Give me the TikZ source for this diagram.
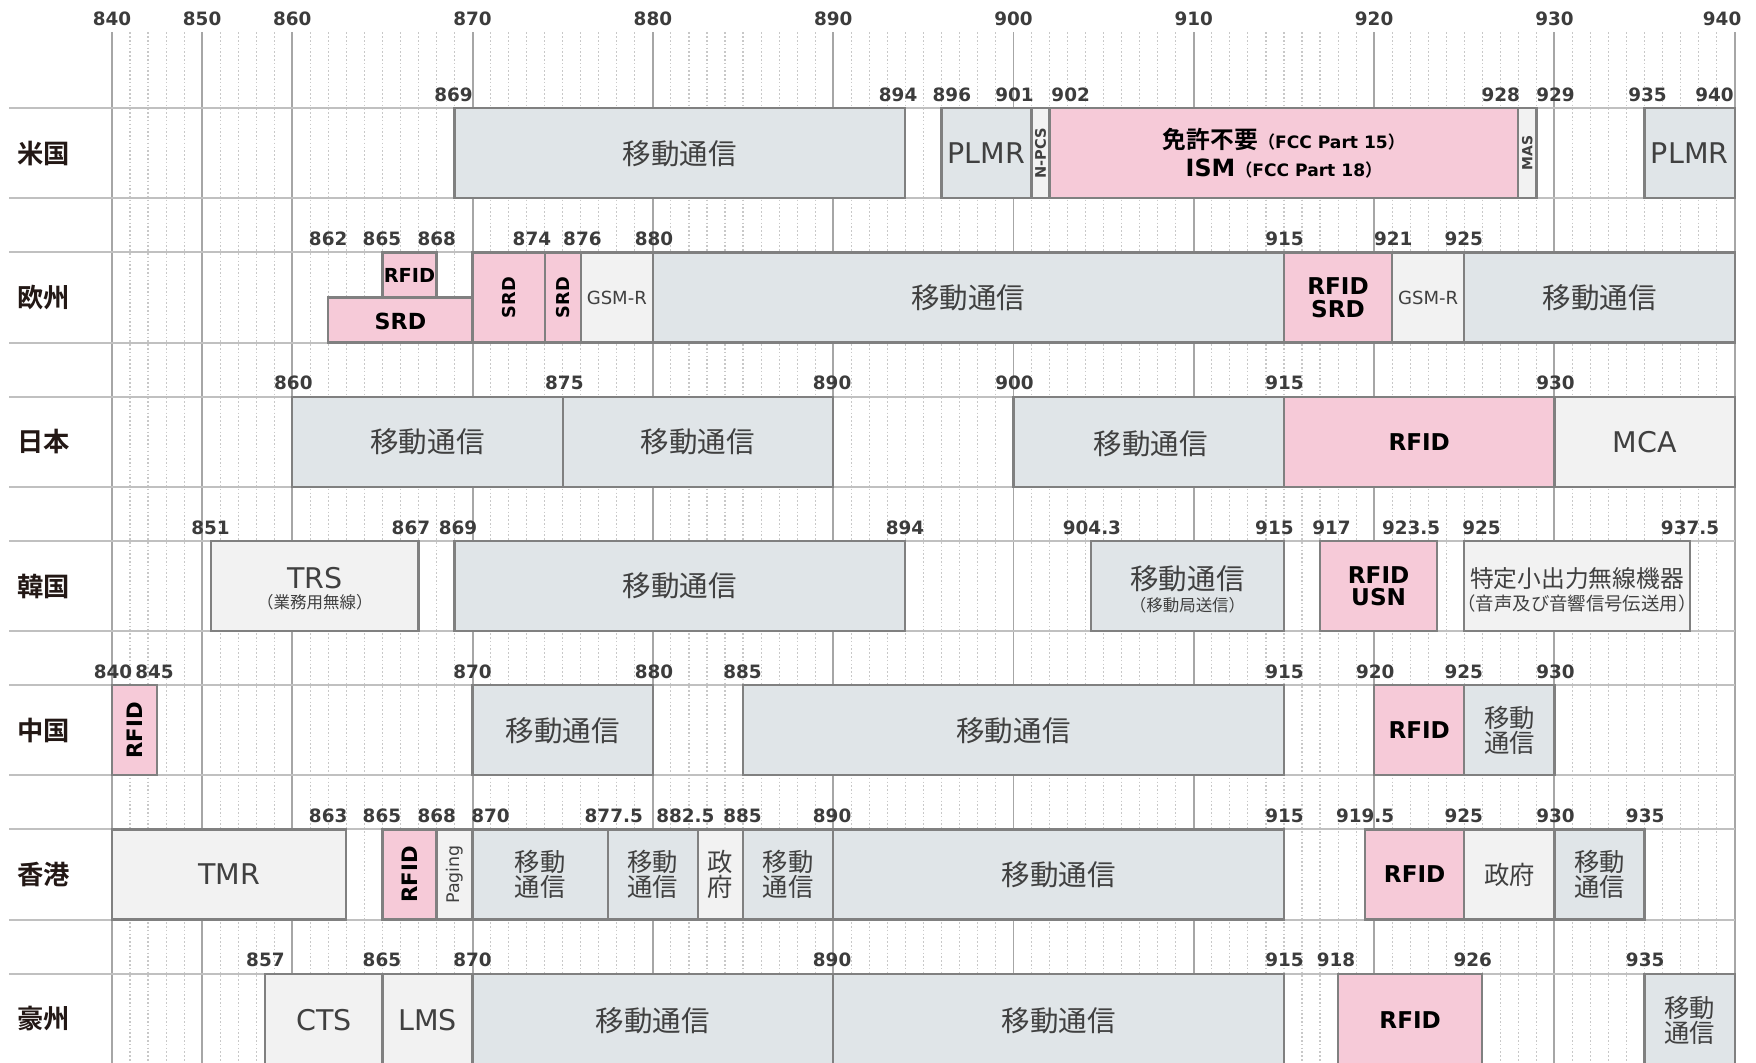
\documentclass[tikz,border=0pt]{standalone}
\usepackage{fontspec}
\setmainfont{DejaVu Sans}
\newfontfamily\jp{Noto Sans CJK JP}[BoldFont={Noto Sans CJK JP Bold}]

\definecolor{mobfill}{HTML}{E0E5E8}
\definecolor{rfpink}{HTML}{F6CAD8}
\definecolor{etcgray}{HTML}{F2F2F2}
\definecolor{boxline}{HTML}{808080}
\definecolor{majline}{HTML}{A6A6A6}
\definecolor{rowline}{HTML}{C0C0C0}
\definecolor{minline}{HTML}{C8C8C8}
\definecolor{txtgray}{HTML}{404040}
\definecolor{numgray}{HTML}{3C3C3C}
\definecolor{namecol}{HTML}{231815}

\begin{document}
\begin{tikzpicture}[x=0.2cm, y=-0.2cm,
    mob/.style={draw=boxline, fill=mobfill, line width=0.7pt},
    rf/.style={draw=boxline, fill=rfpink, line width=0.7pt},
    etc/.style={draw=boxline, fill=etcgray, line width=0.7pt},
    num/.style={font=\fontsize{5.8}{6}\selectfont\bfseries, text=numgray, inner sep=0pt},
    cname/.style={font=\fontsize{8.3}{9}\selectfont\jp\bfseries, text=namecol, anchor=west, inner sep=0pt},
    big/.style={font=\fontsize{9}{9}\selectfont\jp, text=txtgray, inner sep=0pt},
    bigl/.style={font=\fontsize{9}{9}\selectfont, text=txtgray, inner sep=0pt},
    two/.style={font=\fontsize{8}{7.8}\selectfont\jp, text=txtgray, align=center, inner sep=0pt},
    sub/.style={font=\fontsize{5.2}{6}\selectfont\jp, text=txtgray, inner sep=0pt},
    tag/.style={font=\fontsize{7.3}{7.4}\selectfont\bfseries, text=black, align=center, inner sep=0pt},
    vtag/.style={font=\fontsize{6.7}{7}\selectfont\bfseries, text=black, rotate=90, inner sep=0pt},
    small/.style={font=\fontsize{5.7}{6}\selectfont, text=txtgray, inner sep=0pt}]

    \fill[white] (-16.21, 0) rectangle (81.18, 58.94);
    \useasboundingbox (-16.21, 0) rectangle (81.18, 58.94);
    \clip (-16.21, 0) rectangle (81.18, 58.94);

    % grid: 2 MHz steps below 860, 1 MHz steps above
    \foreach \x in {-10,...,80}
        \draw[minline, line width=0.35pt, dash pattern=on 0.5pt off 0.7pt] (\x, 1.8) -- (\x, 59);
    \foreach \x in {-10,-5,0,10,20,...,80}
        \draw[majline, line width=0.6pt] (\x, 1.8) -- (\x, 59);
    \foreach \x/\f [count=\i] in {-10/840,-5/850,0/860,10/870,20/880,30/890,40/900,50/910,60/920,70/930,79.3/940}
        \node[num] (ax\i) at (\x, 1.06) {\f};

    % rows
    \foreach \r in {0,...,6} {
        \draw[rowline, line width=0.6pt] (-15.71, 6 + 8*\r) -- (80, 6 + 8*\r);
        \draw[rowline, line width=0.6pt] (-15.71, 11 + 8*\r) -- (80, 11 + 8*\r);
    }
    \foreach \t [count=\i] in {米国,欧州,日本,韓国,中国,香港,豪州}
        \node[cname] (name\i) at (-15.3, 0.5 + 8*\i) {\t};

    % 米国
    \draw[mob] (9, 6) rectangle (34, 11);
    \draw[mob] (36, 6) rectangle (41, 11);
    \draw[etc] (41, 6) rectangle (42, 11);
    \draw[rf] (42, 6) rectangle (68, 11);
    \draw[etc] (68, 6) rectangle (69, 11);
    \draw[mob] (75, 6) rectangle (80, 11);
    \foreach \x/\t [count=\i] in {8.94/869,33.6/894,36.58/896,40.06/901,43.17/902,67.02/928,70.06/929,75.16/935,78.88/940}
        \node[num] (us\i) at (\x, 5.25) {\t};
    \node[big] (us-mob) at (21.5, 8.5) {移動通信};
    \node[bigl] (us-plmr1) at (38.5, 8.5) {PLMR};
    \node[vtag, font=\fontsize{4.6}{5}\selectfont\bfseries, text=txtgray] (us-npcs) at (41.5, 8.5) {N-PCS};
    \node[tag, font=\fontsize{7.5}{8.8}\selectfont\bfseries] (us-ism) at (55, 8.5)
        {{\jp 免許不要}{\fontsize{5.4}{6}\selectfont{\jp （}FCC Part 15{\jp ）}}\\
         ISM{\fontsize{5.4}{6}\selectfont{\jp （}FCC Part 18{\jp ）}}};
    \node[vtag, font=\fontsize{4.4}{5}\selectfont\bfseries, text=txtgray] (us-mas) at (68.5, 8.5) {MAS};
    \node[bigl] (us-plmr2) at (77.5, 8.5) {PLMR};

    % 欧州
    \draw[rf] (5, 14) rectangle (8, 16.5);
    \draw[rf] (2, 16.5) rectangle (10, 19);
    \draw[rf] (10, 14) rectangle (14, 19);
    \draw[rf] (14, 14) rectangle (16, 19);
    \draw[etc] (16, 14) rectangle (20, 19);
    \draw[mob] (20, 14) rectangle (55, 19);
    \draw[rf] (55, 14) rectangle (61, 19);
    \draw[etc] (61, 14) rectangle (65, 19);
    \draw[mob] (65, 14) rectangle (80, 19);
    \foreach \x/\t [count=\i] in {1.99/862,4.97/865,8.01/868,13.29/874,16.09/876,20.06/880,55.03/915,61.06/921,64.97/925}
        \node[num] (eu\i) at (\x, 13.25) {\t};
    \node[tag, font=\fontsize{6.1}{7}\selectfont\bfseries] (eu-rfid) at (6.5, 15.3) {RFID};
    \node[tag, font=\fontsize{7}{8}\selectfont\bfseries] (eu-srd1) at (6, 17.85) {SRD};
    \node[vtag, font=\fontsize{5.6}{6}\selectfont\bfseries] (eu-srd2) at (12, 16.5) {SRD};
    \node[vtag, font=\fontsize{5.6}{6}\selectfont\bfseries] (eu-srd3) at (15, 16.5) {SRD};
    \node[small] (eu-gsm1) at (18, 16.5) {GSM-R};
    \node[big] (eu-mob1) at (37.5, 16.5) {移動通信};
    \node[tag] (eu-rfsrd) at (58, 16.5) {RFID\\SRD};
    \node[small] (eu-gsm2) at (63, 16.5) {GSM-R};
    \node[big] (eu-mob2) at (72.5, 16.5) {移動通信};

    % 日本
    \draw[mob] (0, 22) rectangle (15, 27);
    \draw[mob] (15, 22) rectangle (30, 27);
    \draw[mob] (40, 22) rectangle (55, 27);
    \draw[rf] (55, 22) rectangle (70, 27);
    \draw[etc] (70, 22) rectangle (80, 27);
    \foreach \x/\t [count=\i] in {0.06/860,15.09/875,29.94/890,40.06/900,55.03/915,70.06/930}
        \node[num] (jp\i) at (\x, 21.25) {\t};
    \node[big] (jp-mob1) at (7.5, 24.5) {移動通信};
    \node[big] (jp-mob2) at (22.5, 24.5) {移動通信};
    \node[big] (jp-mob3) at (47.6, 24.6) {移動通信};
    \node[tag] (jp-rfid) at (62.5, 24.5) {RFID};
    \node[bigl] (jp-mca) at (75, 24.5) {MCA};

    % 韓国
    \draw[etc] (-4.5, 30) rectangle (7, 35);
    \draw[mob] (9, 30) rectangle (34, 35);
    \draw[mob] (44.3, 30) rectangle (55, 35);
    \draw[rf] (57, 30) rectangle (63.5, 35);
    \draw[etc] (65, 30) rectangle (77.5, 35);
    \foreach \x/\t [count=\i] in {-4.53/851,6.58/867,9.19/869,33.98/894,44.35/904.3,54.47/915,57.64/917,62.05/923.5,65.96/925,77.52/937.5}
        \node[num] (kr\i) at (\x, 29.25) {\t};
    \node[bigl] (kr-trs) at (1.25, 32.05) {TRS};
    \node[sub] (kr-trs-sub) at (1.25, 33.42) {（業務用無線）};
    \node[big] (kr-mob1) at (21.5, 32.5) {移動通信};
    \node[big] (kr-mob2) at (49.65, 32.1) {移動通信};
    \node[sub] (kr-mob2-sub) at (49.65, 33.54) {（移動局送信）};
    \node[tag, font=\fontsize{7.3}{7.1}\selectfont\bfseries] (kr-rfid) at (60.25, 32.5) {RFID\\USN};
    \node[big, font=\fontsize{7.5}{8}\selectfont\jp] (kr-srd) at (71.25, 32.08) {特定小出力無線機器};
    \node[sub, font=\fontsize{5.8}{6}\selectfont\jp] (kr-srd-sub) at (71.25, 33.45) {（音声及び音響信号伝送用）};

    % 中国
    \draw[rf] (-10, 38) rectangle (-7.5, 43);
    \draw[mob] (10, 38) rectangle (20, 43);
    \draw[mob] (25, 38) rectangle (55, 43);
    \draw[rf] (60, 38) rectangle (65, 43);
    \draw[mob] (65, 38) rectangle (70, 43);
    \foreach \x/\t [count=\i] in {-9.94/840,-7.64/845,10/870,20.06/880,24.97/885,55.03/915,60.06/920,64.97/925,70.06/930}
        \node[num] (cn\i) at (\x, 37.25) {\t};
    \node[vtag] (cn-rfid1) at (-8.75, 40.5) {RFID};
    \node[big] (cn-mob1) at (15, 40.5) {移動通信};
    \node[big] (cn-mob2) at (40, 40.5) {移動通信};
    \node[tag] (cn-rfid2) at (62.5, 40.5) {RFID};
    \node[two] (cn-mob3) at (67.5, 40.5) {移動\\通信};

    % 香港
    \draw[etc] (-10, 46) rectangle (3, 51);
    \draw[rf] (5, 46) rectangle (8, 51);
    \draw[etc] (8, 46) rectangle (10, 51);
    \draw[mob] (10, 46) rectangle (17.5, 51);
    \draw[mob] (17.5, 46) rectangle (22.5, 51);
    \draw[etc] (22.5, 46) rectangle (25, 51);
    \draw[mob] (25, 46) rectangle (30, 51);
    \draw[mob] (30, 46) rectangle (55, 51);
    \draw[rf] (59.5, 46) rectangle (65, 51);
    \draw[etc] (65, 46) rectangle (70, 51);
    \draw[mob] (70, 46) rectangle (75, 51);
    \foreach \x/\t [count=\i] in {1.99/863,4.97/865,8.01/868,10.99/870,17.83/877.5,21.8/882.5,24.97/885,29.94/890,55.03/915,59.5/919.5,64.97/925,70.06/930,75.03/935}
        \node[num] (hk\i) at (\x, 45.25) {\t};
    \node[bigl] (hk-tmr) at (-3.5, 48.5) {TMR};
    \node[vtag] (hk-rfid1) at (6.5, 48.5) {RFID};
    \node[vtag, font=\fontsize{5.5}{6}\selectfont, text=txtgray] (hk-pag) at (9, 48.5) {Paging};
    \node[two] (hk-mob1) at (13.75, 48.5) {移動\\通信};
    \node[two] (hk-mob2) at (20, 48.5) {移動\\通信};
    \node[two] (hk-gov1) at (23.75, 48.5) {政\\府};
    \node[two] (hk-mob3) at (27.5, 48.5) {移動\\通信};
    \node[big] (hk-mob4) at (42.5, 48.5) {移動通信};
    \node[tag] (hk-rfid2) at (62.25, 48.5) {RFID};
    \node[two] (hk-gov2) at (67.5, 48.5) {政府};
    \node[two] (hk-mob5) at (72.5, 48.5) {移動\\通信};

    % 豪州
    \draw[etc] (-1.5, 54) rectangle (5, 59.5);
    \draw[etc] (5, 54) rectangle (10, 59.5);
    \draw[mob] (10, 54) rectangle (30, 59.5);
    \draw[mob] (30, 54) rectangle (55, 59.5);
    \draw[rf] (58, 54) rectangle (66, 59.5);
    \draw[mob] (75, 54) rectangle (80, 59.5);
    \foreach \x/\t [count=\i] in {-1.49/857,4.97/865,10/870,29.94/890,55.03/915,57.89/918,65.47/926,75.03/935}
        \node[num] (au\i) at (\x, 53.25) {\t};
    \node[bigl] (au-cts) at (1.75, 56.6) {CTS};
    \node[bigl] (au-lms) at (7.5, 56.6) {LMS};
    \node[big] (au-mob1) at (20, 56.6) {移動通信};
    \node[big] (au-mob2) at (42.5, 56.6) {移動通信};
    \node[tag] (au-rfid) at (62, 56.6) {RFID};
    \node[two] (au-mob3) at (77.5, 56.6) {移動\\通信};
\end{tikzpicture}
\end{document}
